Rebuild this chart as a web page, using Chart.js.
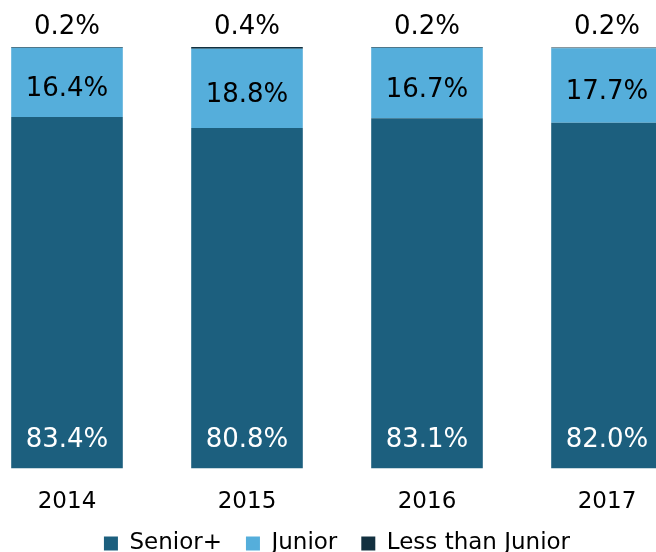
<!DOCTYPE html>
<html>
<head>
<meta charset="utf-8">
<script src="https://cdn.jsdelivr.net/npm/chart.js@4.4.0/dist/chart.umd.min.js"></script>
<style>
  html, body { margin: 0; padding: 0; background: #fff; overflow: hidden; }
  #wrap { position: absolute; left: -23px; top: 0; width: 720px; height: 585px; }
</style>
</head>
<body>
<div id="wrap"><canvas id="chart"></canvas></div>
<script>
// Data
const years = ['2014', '2015', '2016', '2017'];
const senior = [83.4, 80.8, 83.1, 82.0];
const junior = [16.4, 18.8, 16.7, 17.7];
const lessThanJunior = [0.2, 0.4, 0.2, 0.2];

const FONT = '"DejaVu Sans", sans-serif';

// Draw value labels on each bar segment
const barLabels = {
    id: 'barLabels',
    afterDatasetsDraw(chart) {
        const ctx = chart.ctx;
        ctx.save();
        ctx.font = '26px ' + FONT;
        ctx.textAlign = 'center';
        ctx.textBaseline = 'middle';
        chart.data.datasets.forEach((ds, i) => {
            const meta = chart.getDatasetMeta(i);
            meta.data.forEach((bar, j) => {
                const txt = ds.data[j].toFixed(1) + '%';
                let y;
                if (i === 0) {
                    ctx.fillStyle = '#ffffff';
                    y = bar.base - 28;
                } else if (i === 1) {
                    ctx.fillStyle = '#000000';
                    y = (bar.y + bar.base) / 2 + 7;
                } else {
                    ctx.fillStyle = '#000000';
                    y = bar.y - 20;
                }
                ctx.fillText(txt, bar.x, y);
            });
        });
        ctx.restore();
    }
};

// Pull the legend a bit closer to the axis labels
const legendNudge = {
    id: 'legendNudge',
    afterLayout(chart) {
        if (chart.legend) {
            chart.legend.top -= 20;
            chart.legend.bottom -= 20;
        }
    }
};

new Chart(document.getElementById('chart'), {
    type: 'bar',
    data: {
        labels: years,
        datasets: [
            { label: 'Senior+', data: senior, backgroundColor: '#1c5f7e' },
            { label: 'Junior', data: junior, backgroundColor: '#55aedb' },
            { label: 'Less than Junior', data: lessThanJunior, backgroundColor: '#12303f' }
        ]
    },
    options: {
        responsive: true,
        maintainAspectRatio: false,
        animation: false,
        datasets: { bar: { barPercentage: 0.62, categoryPercentage: 1.0 } },
        layout: { padding: { top: 47, left: 0, right: 0, bottom: 0 } },
        scales: {
            x: {
                stacked: true,
                grid: { display: false },
                border: { display: false },
                ticks: { color: '#000', font: { family: FONT, size: 23 }, padding: 12 }
            },
            y: {
                stacked: true,
                min: 0,
                max: 100,
                display: false
            }
        },
        plugins: {
            legend: {
                position: 'bottom',
                labels: {
                    color: '#000',
                    font: { family: FONT, size: 23 },
                    boxWidth: 14,
                    boxHeight: 14,
                    padding: 24
                }
            },
            tooltip: { enabled: false }
        }
    },
    plugins: [barLabels, legendNudge]
});
</script>
</body>
</html>
